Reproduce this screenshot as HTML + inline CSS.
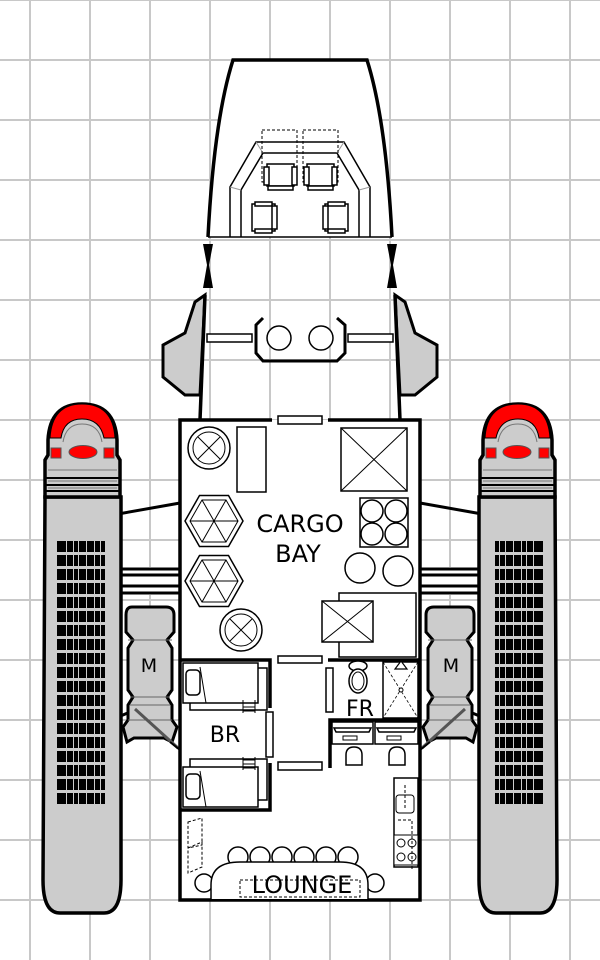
<!DOCTYPE html>
<html><head><meta charset="utf-8"><style>
html,body{margin:0;padding:0;background:#fff;}
svg{display:block;}
text{font-family:"DejaVu Sans","Liberation Sans",sans-serif;}
</style></head><body>
<svg width="600" height="960" viewBox="0 0 600 960" xmlns="http://www.w3.org/2000/svg">
<defs>
<pattern id="bc" x="57" y="541" width="48" height="14" patternUnits="userSpaceOnUse">
<rect x="0" y="0" width="48" height="11" fill="#000"/>
<rect x="9" y="0" width="1" height="11" fill="#ccc"/>
<rect x="16" y="0" width="1" height="11" fill="#ccc"/>
<rect x="21" y="0" width="1" height="11" fill="#ccc"/>
<rect x="29" y="0" width="1" height="11" fill="#ccc"/>
<rect x="37" y="0" width="1" height="11" fill="#ccc"/>
<rect x="43" y="0" width="1" height="11" fill="#ccc"/>
</pattern>
<g id="eng">
 <line x1="118" y1="514" x2="180" y2="503" stroke="#000" stroke-width="3"/>
 <rect x="118" y="567" width="62" height="28" fill="#fff"/>
 <g stroke="#000" stroke-width="3"><line x1="118" y1="569" x2="180" y2="569"/><line x1="118" y1="575" x2="180" y2="575"/><line x1="118" y1="586" x2="180" y2="586"/><line x1="118" y1="593" x2="180" y2="593"/></g>
 <line x1="118" y1="717" x2="135" y2="710" stroke="#000" stroke-width="3"/>
 <path d="M45,497 L43,880 Q43,913 60,913 L104,913 Q121,913 121,880 L121,497 Z" fill="#ccc" stroke="#000" stroke-width="3.5"/>
 <path d="M45,497 L45,460 L48,455 L48,440 Q50,404 82,404 Q115,404 117,440 L117,455 L120,460 L120,497 Z" fill="#ccc" stroke="#000" stroke-width="3.5"/>
 <path d="M50,438 Q52,404 82,404 Q113,404 115,438 L104,438 Q100,419 82,419 Q64,419 61,438 Z" fill="#f00" stroke="#000" stroke-width="1"/>
 <path d="M63,442 Q66,424 82,424 Q99,424 102,442" fill="none" stroke="#777" stroke-width="1"/>
 <rect x="51" y="448" width="10" height="10" fill="#f00" stroke="#555" stroke-width="1"/>
 <rect x="104" y="448" width="10" height="10" fill="#f00" stroke="#555" stroke-width="1"/>
 <ellipse cx="83" cy="452" rx="14" ry="6.5" fill="#f00" stroke="#555" stroke-width="1"/>
 <g stroke="#000" stroke-width="2"><line x1="44" y1="478" x2="121" y2="478"/><line x1="44" y1="485" x2="121" y2="485"/><line x1="44" y1="491" x2="121" y2="491"/></g>
 <g stroke="#777" stroke-width="1"><line x1="48" y1="470" x2="117" y2="470"/><line x1="48" y1="481" x2="117" y2="481"/><line x1="48" y1="488" x2="117" y2="488"/></g>
 <rect x="57" y="541" width="48" height="263" fill="url(#bc)"/>
 <path d="M132,607 L166,607 Q174,607 174,615 L174,632 L167,640 L172,648 L172,690 L167,697 L172,705 L172,720 L177,727 L172,742 L164,738 L134,738 L127,742 L123,727 L128,720 L128,705 L133,697 L128,690 L128,648 L133,640 L126,632 L126,615 Q126,607 132,607 Z" fill="#ccc" stroke="#000" stroke-width="3"/>
 <g stroke="#666" stroke-width="1"><line x1="128" y1="640" x2="172" y2="640"/><line x1="130" y1="697" x2="170" y2="697"/><line x1="130" y1="705" x2="170" y2="705"/><line x1="128" y1="720" x2="172" y2="720"/></g>
 <line x1="135" y1="709" x2="178" y2="748" stroke="#555" stroke-width="3"/>
 <line x1="170" y1="742" x2="180" y2="750" stroke="#000" stroke-width="2"/>
</g>
</defs>
<g stroke="#c8c8c8" stroke-width="2">
<line x1="30" y1="0" x2="30" y2="960"/><line x1="90" y1="0" x2="90" y2="960"/><line x1="150" y1="0" x2="150" y2="960"/><line x1="210" y1="0" x2="210" y2="960"/><line x1="270" y1="0" x2="270" y2="960"/><line x1="330" y1="0" x2="330" y2="960"/><line x1="390" y1="0" x2="390" y2="960"/><line x1="450" y1="0" x2="450" y2="960"/><line x1="510" y1="0" x2="510" y2="960"/><line x1="570" y1="0" x2="570" y2="960"/>
<line x1="0" y1="0" x2="600" y2="0"/><line x1="0" y1="60" x2="600" y2="60"/><line x1="0" y1="120" x2="600" y2="120"/><line x1="0" y1="180" x2="600" y2="180"/><line x1="0" y1="240" x2="600" y2="240"/><line x1="0" y1="300" x2="600" y2="300"/><line x1="0" y1="360" x2="600" y2="360"/><line x1="0" y1="420" x2="600" y2="420"/><line x1="0" y1="480" x2="600" y2="480"/><line x1="0" y1="540" x2="600" y2="540"/><line x1="0" y1="600" x2="600" y2="600"/><line x1="0" y1="660" x2="600" y2="660"/><line x1="0" y1="720" x2="600" y2="720"/><line x1="0" y1="780" x2="600" y2="780"/><line x1="0" y1="840" x2="600" y2="840"/><line x1="0" y1="900" x2="600" y2="900"/>
</g>

<use href="#eng"/>
<use href="#eng" transform="translate(600,0) scale(-1,1)"/>
<text x="149" y="672" font-size="19" text-anchor="middle">M</text>
<text x="451" y="672" font-size="19" text-anchor="middle">M</text>

<path d="M208,237 Q214,120 233,60 L367,60 Q386,120 392,237" fill="#fff" stroke="#000" stroke-width="3.5"/>
<line x1="208" y1="237" x2="392" y2="237" stroke="#000" stroke-width="1.5"/>
<path d="M230,237 L230,187 L256,142 L344,142 L370,187 L370,237" fill="none" stroke="#000" stroke-width="1.5"/>
<path d="M241,237 L241,190 L263,153 L337,153 L359,190 L359,237" fill="none" stroke="#000" stroke-width="1.5"/>
<path d="M230,187 L241,190 M256,142 L263,153 M344,142 L337,153 M370,187 L359,190" stroke="#999" stroke-width="1"/>
<g fill="none" stroke="#000" stroke-width="1" stroke-dasharray="3,2"><rect x="262" y="130" width="35" height="52"/><rect x="303" y="130" width="35" height="52"/></g>
<g fill="#fff" stroke="#000" stroke-width="1.5">
<rect x="267" y="164" width="27" height="22"/><rect x="264" y="167" width="5" height="18"/><rect x="292" y="167" width="5" height="18"/><rect x="268" y="186" width="25" height="4"/>
<rect x="307" y="164" width="27" height="22"/><rect x="304" y="167" width="5" height="18"/><rect x="332" y="167" width="5" height="18"/><rect x="308" y="186" width="25" height="4"/>
<rect x="252" y="204" width="23" height="27"/><rect x="255" y="202" width="17" height="4"/><rect x="255" y="229" width="17" height="4"/><rect x="272" y="206" width="5" height="23"/>
<rect x="325" y="204" width="23" height="27"/><rect x="328" y="202" width="17" height="4"/><rect x="328" y="229" width="17" height="4"/><rect x="323" y="206" width="5" height="23"/>
</g>
<g fill="#000"><path d="M203,244 L213,244 L209,265 L213,288 L203,288 L207,265 Z"/><path d="M387,244 L397,244 L393,265 L397,288 L387,288 L391,265 Z"/></g>
<path d="M205,295 L195,302 L185,333 L163,345 L163,377 L185,395 L200,395 Z" fill="#ccc" stroke="#000" stroke-width="3"/>
<path d="M395,295 L405,302 L415,333 L437,345 L437,377 L415,395 L400,395 Z" fill="#ccc" stroke="#000" stroke-width="3"/>
<line x1="205" y1="295" x2="200" y2="420" stroke="#000" stroke-width="3.5"/>
<line x1="395" y1="295" x2="400" y2="420" stroke="#000" stroke-width="3.5"/>
<g fill="#fff" stroke="#000" stroke-width="1.5"><rect x="207" y="334" width="45" height="8"/><rect x="348" y="334" width="45" height="8"/></g>
<path d="M263,318 L256,325 L256,353 L263,361 L337,361 L345,353 L345,325 L337,318" fill="none" stroke="#000" stroke-width="3"/>
<circle cx="279" cy="338" r="12" fill="#fff" stroke="#000" stroke-width="1.5"/>
<circle cx="321" cy="338" r="12" fill="#fff" stroke="#000" stroke-width="1.5"/>

<rect x="180" y="420" width="240" height="480" fill="#fff"/>
<g stroke="#000" stroke-width="3.5" fill="none">
<path d="M272,420 L180,420 L180,900 L420,900 L420,420 L328,420"/>
<path d="M180,660 L270,660 L270,708 M270,763 L270,810 L180,810"/>
<path d="M328,660 L420,660"/>
<path d="M420,720 L330,720 L330,768"/>
</g>
<g fill="#fff" stroke="#000" stroke-width="1.5">
<rect x="278" y="416" width="44" height="8"/><rect x="278" y="656" width="44" height="7"/><rect x="278" y="762" width="44" height="8"/>
<rect x="266" y="712" width="7" height="45"/><rect x="326" y="668" width="7" height="44"/>
</g>
<g fill="#fff" stroke="#000" stroke-width="1.5">
<circle cx="209" cy="448" r="21"/><circle cx="209" cy="448" r="16" stroke-width="1"/>
<circle cx="241" cy="630" r="21"/><circle cx="241" cy="630" r="16" stroke-width="1"/>
<rect x="237" y="427" width="29" height="65"/>
<rect x="341" y="428" width="66" height="63"/>
<rect x="360" y="498" width="48" height="49"/>
<circle cx="372" cy="511" r="11"/><circle cx="396" cy="511" r="11"/><circle cx="372" cy="534" r="11"/><circle cx="396" cy="534" r="11"/>
<circle cx="360" cy="568" r="15"/><circle cx="398" cy="571" r="15"/>
<rect x="339" y="593" width="77" height="64"/>
<rect x="322" y="601" width="51" height="41"/>
<polygon points="185,521 199.5,495.5 228.5,495.5 243,521 228.5,546.5 199.5,546.5"/>
<polygon points="190,521 202,500 226,500 238,521 226,542 202,542" stroke-width="1"/>
<polygon points="185,581 199.5,555.5 228.5,555.5 243,581 228.5,606.5 199.5,606.5"/>
<polygon points="190,581 202,560 226,560 238,581 226,602 202,602" stroke-width="1"/>
</g>
<g stroke="#000" stroke-width="1">
<path d="M198,437 L220,459 M220,437 L198,459 M230,619 L252,641 M252,619 L230,641"/>
<path d="M341,428 L407,491 M407,428 L341,491 M322,601 L373,642 M373,601 L322,642"/>
<path d="M202,500 L226,542 M226,500 L202,542 M190,521 L238,521 M202,560 L226,602 M226,560 L202,602 M190,581 L238,581"/>
</g>
<text x="300" y="532" font-size="24" text-anchor="middle">CARGO</text>
<text x="298" y="562" font-size="24" text-anchor="middle">BAY</text>
<g fill="#fff" stroke="#000" stroke-width="1.5">
<rect x="190" y="668" width="77" height="42"/><rect x="183" y="663" width="75" height="40"/>
<rect x="186" y="670" width="14" height="25" rx="4"/>
<rect x="190" y="759" width="77" height="41"/><rect x="183" y="767" width="75" height="40"/>
<rect x="186" y="774" width="14" height="25" rx="4"/>
</g>
<g stroke="#000" stroke-width="1">
<path d="M200,667 L206,703 M200,771 L206,807"/>
<path d="M243,700 L243,713 M255,700 L255,713 M243,703 L255,703 M243,707 L255,707 M243,711 L255,711"/>
<path d="M243,757 L243,770 M255,757 L255,770 M243,760 L255,760 M243,764 L255,764 M243,768 L255,768"/>
</g>
<text x="225" y="742" font-size="22" text-anchor="middle">BR</text>
<g fill="#fff" stroke="#000" stroke-width="1.5">
<ellipse cx="358" cy="666" rx="9" ry="5"/><ellipse cx="358" cy="681" rx="9" ry="12"/><ellipse cx="358" cy="681" rx="6" ry="9" stroke-width="1"/>
<rect x="383" y="662" width="35" height="56"/>
</g>
<path d="M383,662 L418,718 M418,662 L383,718" stroke="#000" stroke-width="0.8" stroke-dasharray="3,2"/>
<polygon points="401,661 395,669 407,669" fill="#fff" stroke="#000" stroke-width="1.2"/>
<circle cx="401" cy="690" r="2" fill="#fff" stroke="#000" stroke-width="1"/>
<text x="360" y="716" font-size="22" text-anchor="middle">FR</text>
<g fill="#fff" stroke="#000" stroke-width="1.5">
<rect x="332" y="722" width="41" height="22"/><rect x="375" y="722" width="43" height="22"/>
<path d="M334,728 L371,728 L369,732 L336,732 Z"/><path d="M377,728 L416,728 L414,732 L379,732 Z"/>
<rect x="343" y="736" width="14" height="4" stroke-width="1"/><rect x="387" y="736" width="14" height="4" stroke-width="1"/>
<path d="M346,765 L346,755 Q346,747 354,747 Q362,747 362,755 L362,765 Z"/><path d="M389,765 L389,755 Q389,747 397,747 Q405,747 405,755 L405,765 Z"/>
<rect x="394" y="778" width="24" height="89"/>
<rect x="396" y="795" width="18" height="18" rx="3" stroke-width="1"/>
<rect x="394" y="835" width="24" height="30" stroke-width="1"/>
<circle cx="401" cy="843" r="4" stroke-width="1"/><circle cx="412" cy="843" r="4" stroke-width="1"/><circle cx="401" cy="857" r="4" stroke-width="1"/><circle cx="412" cy="857" r="4" stroke-width="1"/>
</g>
<path d="M398,820 L412,820 L412,870 M405,785 L405,810" fill="none" stroke="#000" stroke-width="1" stroke-dasharray="3,2"/>
<g fill="none" stroke="#000" stroke-width="1" stroke-dasharray="3,2">
<path d="M188,822 L202,818 L202,845 L188,848 Z"/><path d="M188,848 L202,842 L202,867 L188,873 Z"/>
</g>
<g fill="#fff" stroke="#000" stroke-width="1.5">
<circle cx="238" cy="857" r="10"/><circle cx="260" cy="857" r="10"/><circle cx="282" cy="857" r="10"/><circle cx="304" cy="857" r="10"/><circle cx="326" cy="857" r="10"/><circle cx="348" cy="857" r="10"/>
<circle cx="204" cy="883" r="9"/><circle cx="375" cy="883" r="9"/>
<path d="M211,899 L211,885 Q211,862 240,862 L340,862 Q368,862 368,885 L368,899"/>
</g>
<rect x="240" y="880" width="120" height="17" fill="none" stroke="#000" stroke-width="1" stroke-dasharray="3,2"/>
<text x="302" y="893" font-size="24" text-anchor="middle">LOUNGE</text>
</svg>
</body></html>
